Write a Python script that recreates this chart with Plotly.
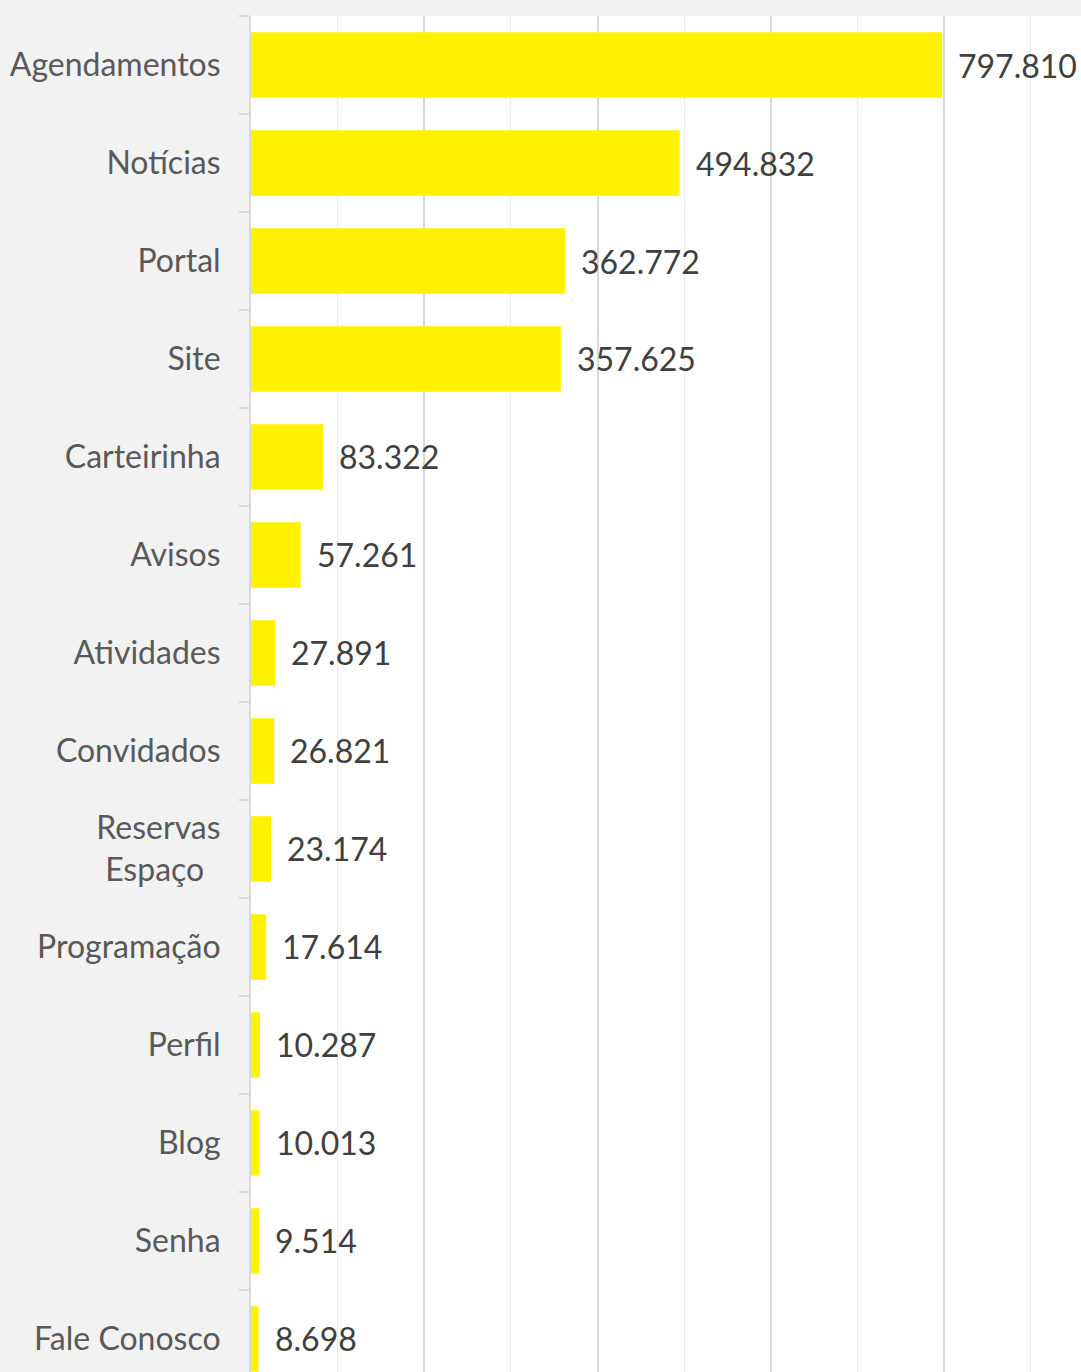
import plotly.graph_objects as go

categories = ["Agendamentos", "Notícias", "Portal", "Site", "Carteirinha", "Avisos",
              "Atividades", "Convidados", "Reservas<br>Espaço\u00a0\u00a0", "Programação",
              "Perfil", "Blog", "Senha", "Fale Conosco"]
values = [797810, 494832, 362772, 357625, 83322, 57261, 27891, 26821, 23174, 17614,
          10287, 10013, 9514, 8698]

def fmt(v):
    return f"{v:,}".replace(",", ".")

value_labels = [fmt(v) for v in values]

fig = go.Figure()
fig.add_trace(go.Bar(
    x=values, y=categories, orientation="h",
    marker=dict(color="#FFF100", line=dict(width=0)),
    width=0.667, hoverinfo="x+y",
))

for v, c, t in zip(values, categories, value_labels):
    fig.add_annotation(x=v, y=c, text=t, showarrow=False, xanchor="left", yanchor="middle",
                       xshift=14, font=dict(family="Lato", size=32, color="#404040"))

fig.update_layout(
    width=1081, height=1372,
    margin=dict(l=251, r=0, t=16, b=0),
    paper_bgcolor="#f2f2f2", plot_bgcolor="#ffffff",
    showlegend=False,
    bargap=0.333,
    font=dict(family="Lato", size=32, color="#595959"),
)
fig.update_xaxes(
    range=[0, 958000], dtick=200000, tick0=0,
    showgrid=True, gridcolor="#d9d9d9", gridwidth=2,
    minor=dict(dtick=100000, tick0=0, showgrid=True, gridcolor="#ececec", gridwidth=1),
    showticklabels=False, zeroline=False, showline=False, ticks="",
)
fig.update_yaxes(
    categoryorder="array", categoryarray=categories,
    range=[13.337, -0.5],
    showgrid=False, zeroline=False,
    showline=True, linecolor="#d9d9d9", linewidth=2,
    ticks="outside", tickson="boundaries", ticklen=10, tickwidth=2, tickcolor="#d9d9d9",
    ticklabelstandoff=22,
    tickfont=dict(family="Lato", size=32, color="#595959"),
)

fig.write_html(
    "out.html",
    config={"displayModeBar": False},
    post_script="document.body.style.margin='0';document.body.style.background='#f2f2f2';document.body.style.overflow='hidden';",
)
